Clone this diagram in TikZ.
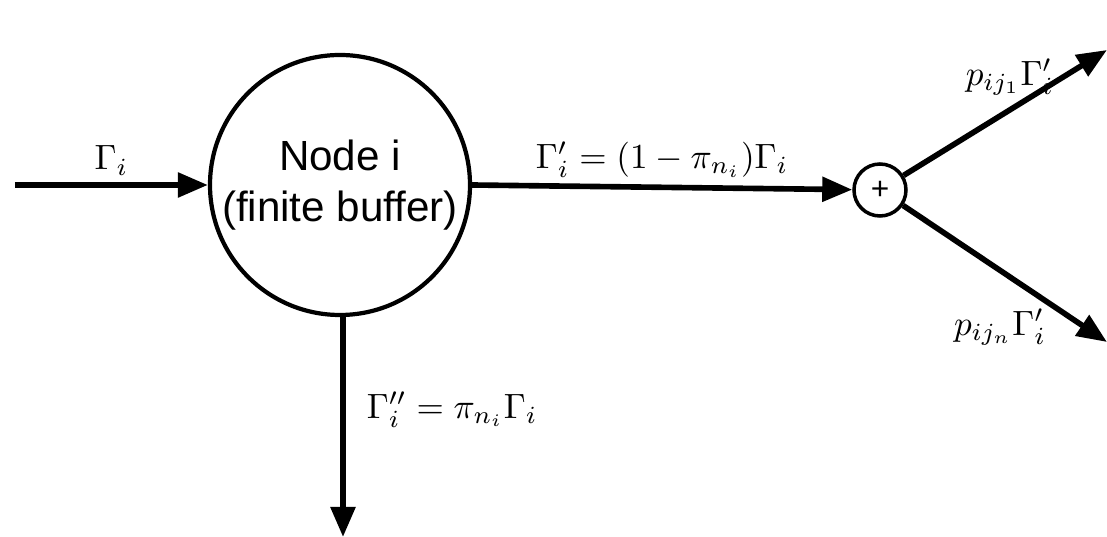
\documentclass[tikz,border=0pt]{standalone}
\usepackage{fontspec}
\setsansfont{Liberation Sans}
\usetikzlibrary{arrows.meta, positioning, calc}
\tikzset{
  every picture/.style={line width=1.2pt},
  queue/.style={draw, circle, minimum size=2.6cm, inner sep=0pt, align=center, font=\sffamily\fontsize{12}{14.5}\selectfont},
  sumnode/.style={draw, circle, line width=1pt, minimum size=0.52cm, inner sep=0pt, font=\sffamily\small},
  arrow/.style={-{Triangle[length=3mm, width=2.4mm]}, line width=1.6pt},
  rate/.style={font=\normalsize, inner sep=2pt},
}
\begin{document}
\begin{tikzpicture}
  \useasboundingbox (0,0) rectangle (11.07,5.37);
  % queue and splitting point
  \node[queue] (nodei) at (3.40,3.52) {Node i\\(finite buffer)};
  \node[sumnode] (sum) at (8.80,3.47) {+};
  % free ends
  \coordinate (src) at (0.15,3.52);
  \coordinate (drop) at (3.43,0.0);
  \coordinate (outone) at (11.07,4.87);
  \coordinate (outn) at (11.07,1.95);
  % flows
  \draw[arrow] (src) -- (src -| nodei.west) node[midway, above, rate] (lgin) {$\Gamma_i$};
  \draw[arrow] (nodei.east) -- (sum) node[midway, above, rate] (lgout) {$\Gamma_i' = (1-\pi_{n_i})\Gamma_i$};
  \draw[arrow] (nodei.south -| drop) -- (drop) node[pos=0.42, right=4pt, rate] (lgdrop) {$\Gamma_i'' = \pi_{n_i}\Gamma_i$};
  \draw[arrow] (sum) -- (outone);
  \draw[arrow] (sum) -- (outn);
  \node[rate] (lgone) at (10.10,4.60) {$p_{ij_1}\Gamma_i'$};
  \node[rate] (lgn) at (10.00,2.10) {$p_{ij_n}\Gamma_i'$};
\end{tikzpicture}
\end{document}
